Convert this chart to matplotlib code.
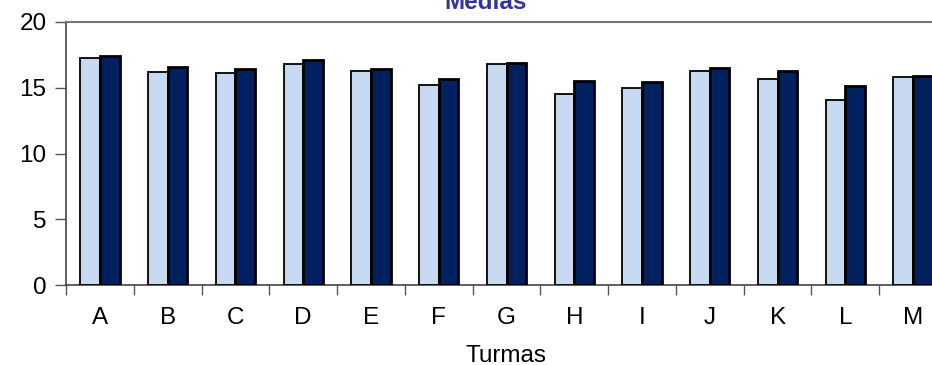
import matplotlib
matplotlib.use("Agg")
import matplotlib.pyplot as plt
import numpy as np

categories = ["A", "B", "C", "D", "E", "F", "G", "H", "I", "J", "K", "L", "M"]
series_light = [17.3, 16.2, 16.1, 16.8, 16.3, 15.2, 16.8, 14.5, 15.0, 16.3, 15.7, 14.1, 15.8]
series_dark = [17.4, 16.6, 16.4, 17.1, 16.4, 15.7, 16.9, 15.5, 15.4, 16.5, 16.3, 15.1, 15.9]
yticks = [0, 5, 10, 15, 20]

plt.rcParams['font.family'] = ['Liberation Sans', 'DejaVu Sans']

fig = plt.figure(figsize=(9.32, 3.65), dpi=100)
W, H = 932, 365
ax = fig.add_axes([66 / W, (H - 285) / H, 881 / W, 263 / H])

x = np.arange(len(categories))
bw = 0.29
ax.bar(x - bw / 2, series_light, width=bw, color="#C6D9F1", edgecolor="black", linewidth=1.3, zorder=3)
ax.bar(x + bw / 2, series_dark, width=bw, color="#002060", edgecolor="black", linewidth=2.0, zorder=3)

ax.set_xlim(-0.5, len(categories) - 0.5)
ax.set_ylim(0, 20)
ax.set_yticks(yticks)
ax.set_yticklabels([str(v) for v in yticks], fontsize=17.5)
ax.tick_params(axis='y', direction='out', length=8, width=1, color="#555555", pad=6)

ax.set_xticks(x)
ax.set_xticklabels(categories, fontsize=17.5)
ax.tick_params(axis='x', which='major', length=0, pad=16)
ax.set_xticks(np.arange(len(categories) + 1) - 0.5, minor=True)
ax.tick_params(axis='x', which='minor', direction='out', length=7, width=1, color="#555555")

for s in ["left", "bottom"]:
    ax.spines[s].set_color("#444444")
    ax.spines[s].set_linewidth(1.2)
ax.spines["top"].set_color("#777777")
ax.spines["top"].set_linewidth(1.5)
ax.spines["right"].set_visible(False)

ax.set_xlabel("Turmas", fontsize=17.5, labelpad=11)

fig.text(486 / W, 1 - 9 / H, "Medias", fontsize=17.5, fontweight="bold", color="#333399",
         ha="center", va="baseline")

fig.savefig("out.png", dpi=100)
